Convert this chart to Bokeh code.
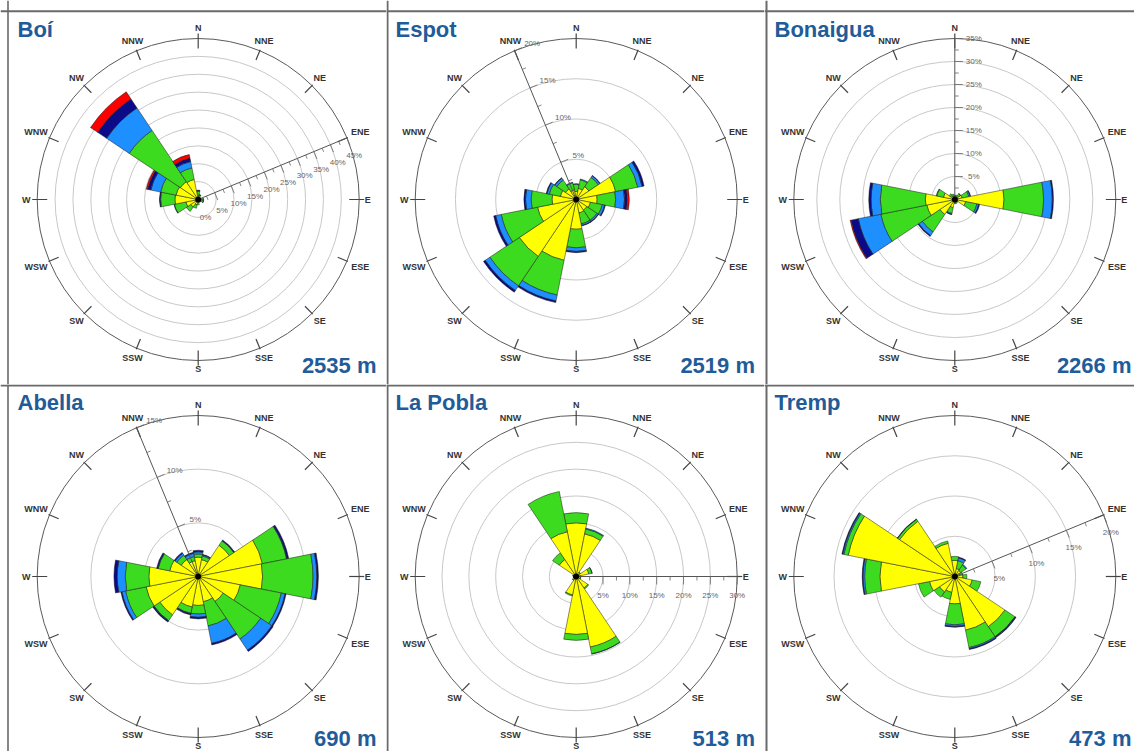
import math
from bokeh.plotting import figure
from bokeh.layouts import column, row
from bokeh.models import Range1d, ColumnDataSource, Span
from bokeh.core.properties import value
from bokeh.embed import file_html
from bokeh.resources import INLINE

# ---------------- data ----------------
DIRS = ["N", "NNE", "NE", "ENE", "E", "ESE", "SE", "SSE",
        "S", "SSW", "SW", "WSW", "W", "WNW", "NW", "NNW"]
CLASS_COLORS = ["#FFFF00", "#3DDB1F", "#1E8FFF", "#0B0B8A", "#FF0000"]

names = ["Boí", "Espot", "Bonaigua", "Abella", "La Pobla", "Tremp"]
elevations = ["2535 m", "2519 m", "2266 m", "690 m", "513 m", "473 m"]
max_pct = [45, 20, 35, 15, 30, 20]
step_pct = [5, 5, 5, 5, 5, 5]
axis_dir = ["ENE", "NNW", "N", "NNW", "E", "ENE"]
show_zero = [True, False, False, False, False, False]

# percent frequency per direction (N..NNW), per speed class
boi_yellow = [1.2, 0.6, 0.4, 0.4, 0.6, 0.6, 0.5, 0.5, 0.8, 1.5, 2.5, 3.5, 6.5, 6.3, 6.0, 5.7]
boi_green = [1.1, 0.7, 0.3, 0.3, 0.8, 0.9, 0.4, 0.3, 0.7, 1.0, 1.5, 3.3, 4.0, 4.4, 17.2, 3.3]
boi_lblue = [0.2, 0.1, 0, 0, 0.1, 0.1, 0, 0, 0, 0, 0, 0.1, 0.2, 2.8, 7.6, 1.8]
boi_dblue = [0.1, 0, 0, 0, 0, 0, 0, 0, 0, 0, 0, 0, 0.1, 0.9, 3.0, 1.0]
boi_red = [0, 0, 0, 0, 0, 0, 0, 0, 0, 0, 0, 0, 0, 0.4, 2.4, 1.0]

esp_yellow = [1.0, 1.4, 1.9, 5.0, 2.6, 1.8, 1.6, 1.7, 3.7, 7.7, 8.5, 4.9, 3.0, 2.0, 1.6, 1.2]
esp_green = [0.9, 1.1, 1.4, 2.8, 2.3, 1.5, 1.5, 1.4, 2.3, 4.4, 4.4, 4.6, 2.6, 1.4, 1.3, 0.9]
esp_lblue = [0.05, 0.1, 0.25, 0.55, 1.1, 0.3, 0.2, 0.2, 0.45, 0.75, 0.7, 0.7, 0.7, 0.3, 0.3, 0.1]
esp_dblue = [0, 0, 0.05, 0.25, 0.35, 0.1, 0.05, 0.05, 0.15, 0.2, 0.25, 0.25, 0.2, 0.1, 0.05, 0]
esp_red = [0, 0, 0, 0, 0.25, 0, 0, 0, 0, 0, 0, 0, 0, 0, 0, 0]

bon_yellow = [0.5, 0.5, 0.8, 1.6, 10.7, 2.4, 0.5, 0.5, 0.5, 1.8, 3.9, 6.2, 6.4, 2.5, 0.9, 0.7]
bon_green = [0.4, 0.5, 0.7, 1.5, 8.6, 2.5, 0.3, 0.4, 0.4, 1.3, 4.6, 10.2, 9.8, 1.5, 0.6, 0.5]
bon_lblue = [0, 0, 0.1, 0.3, 1.9, 0.4, 0, 0, 0, 0.2, 0.95, 5.0, 2.0, 0.1, 0, 0]
bon_dblue = [0, 0, 0, 0.1, 0.25, 0.2, 0, 0, 0, 0.05, 0.2, 1.6, 0.5, 0, 0, 0]
bon_red = [0, 0, 0, 0, 0, 0, 0, 0, 0, 0, 0, 0.2, 0, 0, 0, 0]

abe_yellow = [1.8, 1.6, 3.5, 6.1, 6.0, 4.0, 2.8, 2.4, 2.7, 2.9, 4.3, 4.95, 4.6, 2.7, 1.9, 1.5]
abe_green = [0.3, 0.35, 0.5, 2.3, 4.7, 3.9, 4.2, 2.3, 0.8, 0.6, 0.65, 1.95, 2.2, 1.1, 0.5, 0.4]
abe_lblue = [0.2, 0.1, 0, 0.05, 0.35, 0.35, 1.25, 1.65, 0.3, 0.05, 0.05, 0.35, 0.75, 0.05, 0.2, 0.3]
abe_dblue = [0.15, 0.05, 0.1, 0.15, 0.15, 0.1, 0.15, 0.15, 0.15, 0.1, 0.1, 0.1, 0.3, 0.1, 0.1, 0.1]
abe_red = [0] * 16

pob_yellow = [10.0, 8.1, 0.9, 2.4, 0.7, 0.8, 2.6, 13.4, 10.8, 3.5, 0.8, 0.5, 0.5, 0.6, 3.8, 8.5]
pob_green = [1.9, 0.95, 0.1, 0.6, 0.1, 0.1, 0.2, 1.3, 1.1, 0.2, 0.1, 0.05, 0.05, 0.05, 1.5, 7.65]
pob_lblue = [0, 0.15, 0, 0.05, 0, 0, 0, 0.05, 0, 0, 0, 0, 0, 0, 0, 0]
pob_dblue = [0] * 16
pob_red = [0] * 16

tre_yellow = [2.0, 1.0, 0.9, 0.6, 1.0, 2.2, 7.5, 6.8, 3.4, 2.0, 2.3, 3.2, 9.3, 13.5, 8.25, 4.2]
tre_green = [0.5, 1.0, 0.8, 0.4, 0.5, 1.1, 1.5, 2.2, 2.6, 0.9, 0.8, 1.4, 1.9, 0.55, 0.3, 0.3]
tre_lblue = [0, 0.35, 0.1, 0, 0, 0, 0.05, 0.15, 0.2, 0, 0, 0, 0.2, 0.15, 0, 0]
tre_dblue = [0, 0.1, 0, 0, 0, 0, 0.1, 0.1, 0.1, 0, 0, 0, 0.1, 0.1, 0.05, 0]
tre_red = [0] * 16

station_classes = [
    [boi_yellow, boi_green, boi_lblue, boi_dblue, boi_red],
    [esp_yellow, esp_green, esp_lblue, esp_dblue, esp_red],
    [bon_yellow, bon_green, bon_lblue, bon_dblue, bon_red],
    [abe_yellow, abe_green, abe_lblue, abe_dblue, abe_red],
    [pob_yellow, pob_green, pob_lblue, pob_dblue, pob_red],
    [tre_yellow, tre_green, tre_lblue, tre_dblue, tre_red],
]

# ---------------- layout (page pixels) ----------------
R_PX = 161.0
COL_X = [0, 386, 764]
COL_W = [386, 378, 370]
ROW_Y = [0, 384]
ROW_H = [384, 367]
CEN_X = [197.7, 575.7, 954.3]
CEN_Y = [199.0, 576.0]
TITLE_X = [17, 395, 774]
TITLE_MID = [29.0, 401.8]
ELEV_RIGHT = [376, 754.5, 1131]
ELEV_MID = [365.0, 738.0]
TITLE_COLOR = "#1F5C99"
FONT = value("Liberation Sans")


def make_panel(k):
    col, rw = k % 3, k // 3
    s = R_PX / max_pct[k]
    fx, fw, fy, fh = COL_X[col], COL_W[col], ROW_Y[rw], ROW_H[rw]
    cx, cy = CEN_X[col], CEN_Y[rw]

    def X(px):
        return (px - cx) / s

    def Y(py):
        return (cy - py) / s

    p = figure(width=fw, height=fh, output_backend="svg", toolbar_location=None,
               tools="", x_range=Range1d(X(fx), X(fx + fw)),
               y_range=Range1d(Y(fy + fh), Y(fy)),
               x_axis_location=None, y_axis_location=None, min_border=0)
    p.outline_line_color = None
    p.grid.visible = False
    p.background_fill_color = "white"
    p.border_fill_color = "white"

    # rings
    mx, st = max_pct[k], step_pct[k]
    rings = list(range(st, mx, st))
    p.circle(x=[0] * len(rings), y=[0] * len(rings), radius=rings,
             fill_color=None, line_color="#c8c8c8", line_width=1)
    p.circle(x=[0], y=[0], radius=[mx], fill_color=None,
             line_color="#5a5a5a", line_width=1)

    # wedges
    xs, ys, inn, out, sa, ea, cols = [], [], [], [], [], [], []
    classes = station_classes[k]
    for i in range(16):
        th = 22.5 * i
        cum = 0.0
        for c in range(5):
            v = classes[c][i]
            if v <= 0:
                continue
            xs.append(0); ys.append(0)
            inn.append(cum)
            cum += v
            out.append(cum)
            sa.append(math.radians(90 - th - 11.25))
            ea.append(math.radians(90 - th + 11.25))
            cols.append(CLASS_COLORS[c])
    src = ColumnDataSource(dict(x=xs, y=ys, inner=inn, outer=out,
                                start=sa, end=ea, color=cols))
    p.annular_wedge(x="x", y="y", inner_radius="inner", outer_radius="outer",
                    start_angle="start", end_angle="end", fill_color="color",
                    line_color="#1a1a1a", line_width=0.6, line_alpha=0.85,
                    source=src)

    # compass ticks and labels
    x0s, y0s, x1s, y1s = [], [], [], []
    lx, ly, lt = [], [], []
    for i, d in enumerate(DIRS):
        th = math.radians(22.5 * i)
        sn, cs = math.sin(th), math.cos(th)
        if i % 4 == 0:
            r1, r2 = 151, 166
        else:
            r1, r2 = 151, 162
        x0s.append(r1 / s * sn); y0s.append(r1 / s * cs)
        x1s.append(r2 / s * sn); y1s.append(r2 / s * cs)
        if d == "E":
            rl = 169.5
        elif d == "S":
            rl = 169
        elif len(d) == 3 and abs(sn) > 0.9:
            rl = 175.5
        else:
            rl = 172
        lx.append(rl / s * sn); ly.append(rl / s * cs); lt.append(d)
    p.segment(x0=x0s, y0=y0s, x1=x1s, y1=y1s, line_color="#444444", line_width=1.2)
    p.text(x=lx, y=ly, text=lt, text_font=FONT, text_font_size="9px",
           text_font_style="bold", text_color="#333333",
           text_align="center", text_baseline="middle")

    # radial axis
    ai = DIRS.index(axis_dir[k])
    th = math.radians(22.5 * ai)
    ux, uy = math.sin(th), math.cos(th)
    px_, py_ = math.cos(th), -math.sin(th)  # clockwise perpendicular
    p.segment(x0=[0], y0=[0], x1=[mx * ux], y1=[mx * uy],
              line_color="#555555", line_width=1)
    tx0, ty0, tx1, ty1 = [], [], [], []
    nhalf = int(round(2 * mx / st))
    for j in range(1, nhalf + 1):
        r = j * st / 2.0
        L = (8 if j % 2 == 0 else 4) / s
        tx0.append(r * ux); ty0.append(r * uy)
        tx1.append(r * ux + L * px_); ty1.append(r * uy + L * py_)
    p.segment(x0=tx0, y0=ty0, x1=tx1, y1=ty1, line_color="#666666", line_width=0.8)
    vals = list(range(0 if show_zero[k] else st, mx + 1, st))
    off = 19 / s
    p.text(x=[v * ux + off * px_ for v in vals], y=[v * uy + off * py_ for v in vals],
           text=["%d%%" % v for v in vals], text_font=FONT, text_font_size="8px",
           text_color="#666666", text_align="center", text_baseline="middle")

    # centre dot
    p.circle(x=[0], y=[0], radius=[2.6 / s], fill_color="black", line_color="black")

    # title and elevation
    p.text(x=[X(TITLE_X[col])], y=[Y(TITLE_MID[rw])], text=[names[k]],
           text_font=FONT, text_font_size="22px", text_font_style="bold",
           text_color=TITLE_COLOR, text_align="left", text_baseline="middle")
    p.text(x=[X(ELEV_RIGHT[col])], y=[Y(ELEV_MID[rw])], text=[elevations[k]],
           text_font=FONT, text_font_size="22px", text_font_style="bold",
           text_color=TITLE_COLOR, text_align="right", text_baseline="middle")

    # frame lines
    bc, bw = "#6a6a6a", 2
    if col == 0:
        p.add_layout(Span(location=X(7.5), dimension="height", line_color=bc, line_width=1.6))
    if col == 1:
        p.add_layout(Span(location=X(387), dimension="height", line_color=bc, line_width=bw))
    if col == 2:
        p.add_layout(Span(location=X(766), dimension="height", line_color=bc, line_width=bw))
    if rw == 0:
        p.add_layout(Span(location=Y(10.7), dimension="width", line_color=bc, line_width=bw))
    else:
        p.add_layout(Span(location=Y(385), dimension="width", line_color=bc, line_width=bw))
    return p


panels = [make_panel(k) for k in range(6)]
layout = column(row(panels[0], panels[1], panels[2]),
                row(panels[3], panels[4], panels[5]))

open("out.html", "w").write(file_html(layout, INLINE))
